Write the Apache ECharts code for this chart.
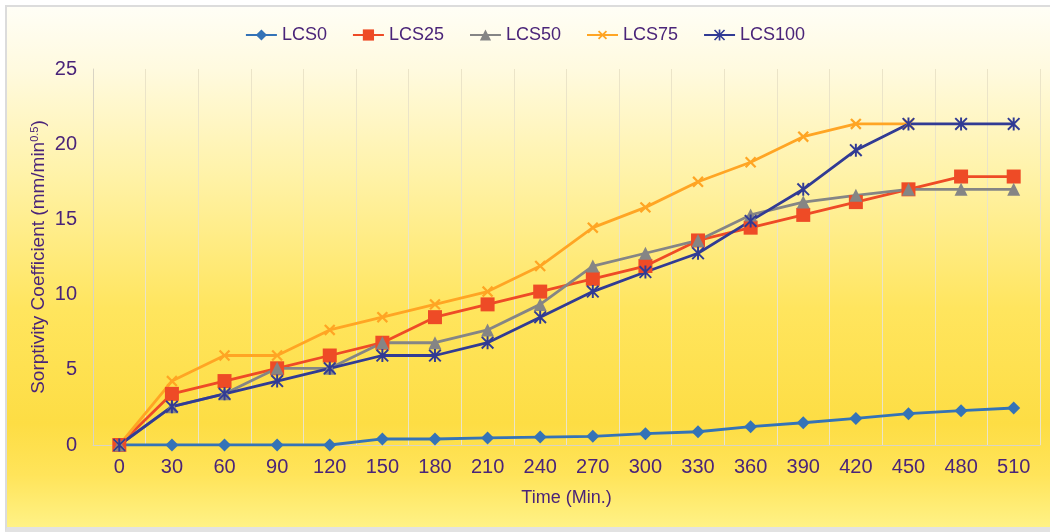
<!DOCTYPE html>
<html>
<head>
<meta charset="utf-8">
<script src="https://cdn.jsdelivr.net/npm/echarts@6/dist/echarts.min.js"></script>
<style>
  html, body { margin: 0; padding: 0; background: #ffffff; }
  #frame {
    position: absolute; left: 5px; top: 5px; width: 1050px; height: 520px;
    border-left: 2px solid #dcdcdc; border-top: 2px solid #dcdcdc; border-bottom: 5px solid #e2e2e2;
    background: linear-gradient(to bottom, #fffef6 0%, #fffadf 12%, #fff2a6 33%, #ffe55e 58%, #fddd44 80%, #ffe45a 90%, #fff286 100%);
  }
  #chart { position: absolute; left: 0; top: 0; width: 1050px; height: 532px; }
</style>
</head>
<body>
<div id="frame"></div>
<div id="chart"></div>
<script>
// Elapsed time (minutes)
const times = ['0', '30', '60', '90', '120', '150', '180', '210', '240', '270', '300', '330', '360', '390', '420', '450', '480', '510'];

// Sorptivity coefficient per mix (mm/min^0.5)
const lcs0   = [0, 0, 0, 0, 0, 0.4, 0.4, 0.47, 0.53, 0.58, 0.75, 0.88, 1.22, 1.48, 1.77, 2.08, 2.28, 2.46];
const lcs25  = [0, 3.4, 4.25, 5.1, 5.95, 6.8, 8.5, 9.35, 10.2, 11.05, 11.9, 13.6, 14.45, 15.3, 16.15, 17.0, 17.85, 17.85];
const lcs50  = [0, 2.55, 3.4, 5.1, 5.1, 6.8, 6.8, 7.65, 9.35, 11.9, 12.75, 13.6, 15.3, 16.15, 16.6, 17.0, 17.0, 17.0];
const lcs75  = [0, 4.25, 5.95, 5.95, 7.65, 8.5, 9.35, 10.2, 11.9, 14.45, 15.8, 17.5, 18.8, 20.5, 21.35, 21.35, null, null];
const lcs100 = [0, 2.55, 3.4, 4.25, 5.1, 5.95, 5.95, 6.8, 8.5, 10.2, 11.5, 12.75, 14.9, 17.0, 19.6, 21.35, 21.35, 21.35];

const seriesNames = ['LCS0', 'LCS25', 'LCS50', 'LCS75', 'LCS100'];
const yTicks = { min: 0, max: 25, interval: 5 };

const textColor = '#4a2479';
const font = 'Liberation Sans, Arial, sans-serif';

// Marker shapes
const crossPath = 'path://M4.2,0 H5.8 V4.2 H10 V5.8 H5.8 V10 H4.2 V5.8 H0 V4.2 H4.2 Z';
const starPath = 'path://M4.25,0 H5.75 V10 H4.25 Z M0,1.05 L1.05,0 L10,8.95 L8.95,10 Z M8.95,0 L10,1.05 L1.05,10 L0,8.95 Z';

function line(name, data, color, symbol, size, extra) {
  return Object.assign({
    name: name,
    type: 'line',
    data: data,
    symbol: symbol,
    symbolSize: size,
    showAllSymbol: true,
    lineStyle: { color: color, width: 2.8 },
    itemStyle: { color: color },
    emphasis: { disabled: true },
    animation: false
  }, extra || {});
}

const chart = echarts.init(document.getElementById('chart'), null, { renderer: 'canvas' });
chart.setOption({
  backgroundColor: 'transparent',
  textStyle: { fontFamily: font },
  legend: {
    top: 21,
    left: 'center',
    itemWidth: 31,
    itemHeight: 14,
    itemGap: 25,
    textStyle: { color: textColor, fontSize: 18, fontFamily: font },
    data: seriesNames
  },
  grid: { left: 93, right: 10, top: 69, bottom: 87, containLabel: false },
  xAxis: {
    type: 'category',
    data: times,
    boundaryGap: true,
    name: 'Time (Min.)',
    nameLocation: 'middle',
    nameGap: 44,
    nameTextStyle: { color: textColor, fontSize: 18, fontFamily: font },
    axisLine: { show: true, lineStyle: { color: '#d9d4c4', width: 1 } },
    axisTick: { show: false },
    axisLabel: { color: textColor, fontSize: 20, margin: 12, fontFamily: font, interval: 0 },
    splitLine: { show: true, interval: 0, lineStyle: { color: '#ebe4c8', width: 1 } }
  },
  yAxis: {
    type: 'value',
    min: yTicks.min,
    max: yTicks.max,
    interval: yTicks.interval,
    name: '{a|Sorptivity Coefficient (mm/min}{s|0.5}{a|)}',
    nameLocation: 'middle',
    nameGap: 44,
    nameMoveOverlap: false,
    nameRotate: 90,
    nameTextStyle: {
      rich: {
        a: { color: textColor, fontSize: 19, fontFamily: font },
        s: { color: textColor, fontSize: 11, fontFamily: font, verticalAlign: 'top', padding: [0, 0, 9, 0] }
      }
    },
    axisLine: { show: true, lineStyle: { color: '#d9d4c4', width: 1 } },
    axisTick: { show: false },
    axisLabel: { color: textColor, fontSize: 20, margin: 16, fontFamily: font },
    splitLine: { show: false }
  },
  series: [
    line('LCS0', lcs0, '#3473b7', 'diamond', 13),
    line('LCS25', lcs25, '#ee4b26', 'rect', 14),
    line('LCS50', lcs50, '#858585', 'triangle', 13),
    line('LCS75', lcs75, '#ffa524', crossPath, 14, { symbolRotate: 45 }),
    line('LCS100', lcs100, '#313b94', starPath, 13)
  ]
});
</script>
</body>
</html>
